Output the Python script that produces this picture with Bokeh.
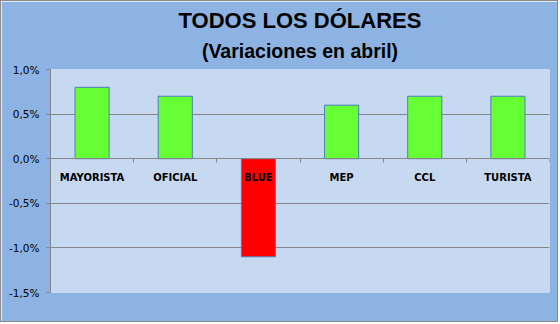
from bokeh.plotting import figure
from bokeh.models import FixedTicker, Title, Range1d, ColumnDataSource
from bokeh.embed import file_html
from bokeh.resources import INLINE

categories = ["MAYORISTA", "OFICIAL", "BLUE", "MEP", "CCL", "TURISTA"]
values = [0.8, 0.7, -1.1, 0.6, 0.7, 0.7]
y_ticks = [-1.5, -1.0, -0.5, 0.0, 0.5, 1.0]
y_tick_labels = ["-1,5%", "-1,0%", "-0,5%", "0,0%", "0,5%", "1,0%"]
title_main = "TODOS LOS DÓLARES"
title_sub = "(Variaciones en abril)"

POS = "#66FF33"
NEG = "#FF0000"

xs = list(range(len(categories)))
colors = [POS if v >= 0 else NEG for v in values]
src = ColumnDataSource(dict(x=xs, top=values, color=colors))

p = figure(width=558, height=322, output_backend="svg", toolbar_location=None,
           x_range=Range1d(-0.5, len(categories) - 0.5),
           y_range=Range1d(min(y_ticks), max(y_ticks)),
           min_border_left=49, min_border_right=10, min_border_top=68, min_border_bottom=31)
p.styles = {"border": "1px solid #8a8a8a"}
p.background_fill_color = "#C6D9F1"
p.border_fill_color = "#8DB3E2"
p.outline_line_color = None

p.vbar(x="x", top="top", bottom=0, width=0.41, fill_color="color", line_color="#4A7EBB",
       line_width=1, source=src)

p.add_layout(Title(text=title_sub, align="center", text_font="Liberation Sans",
                   text_font_size="19.5px", text_font_style="bold", text_color="black",
                   standoff=15), "above")
p.add_layout(Title(text=title_main, align="center", text_font="Liberation Sans",
                   text_font_size="22px", text_font_style="bold", text_color="black",
                   vertical_align="bottom", standoff=-5), "above")
p.title.visible = False

# y axis
ya = p.yaxis[0]
ya.ticker = FixedTicker(ticks=y_ticks)
ya.major_label_overrides = dict(zip(y_ticks, y_tick_labels))
ya.axis_line_color = "#868686"
ya.major_tick_line_color = "#868686"
ya.major_tick_out = 4
ya.major_tick_in = 0
ya.minor_tick_line_color = None
ya.major_label_text_font = "DejaVu Sans"
ya.major_label_text_font_size = "10.5px"
ya.major_label_text_color = "black"
ya.major_label_standoff = 7

# x axis drawn at zero
xa = p.xaxis[0]
xa.fixed_location = 0
xa.ticker = FixedTicker(ticks=xs, minor_ticks=[i - 0.5 for i in range(len(categories) + 1)])
xa.major_label_overrides = dict(zip(xs, categories))
xa.axis_line_color = "#868686"
xa.major_tick_line_color = None
xa.minor_tick_line_color = "#868686"
xa.minor_tick_out = 4
xa.minor_tick_in = 0
xa.major_label_text_font = "DejaVu Sans"
xa.major_label_text_font_size = "10px"
xa.major_label_text_font_style = "bold"
xa.major_label_text_color = "black"
xa.major_label_standoff = 7

p.xgrid.grid_line_color = None
p.ygrid.ticker = FixedTicker(ticks=y_ticks)
p.ygrid.grid_line_color = "#868686"

open("out.html", "w").write(file_html(p, INLINE))
